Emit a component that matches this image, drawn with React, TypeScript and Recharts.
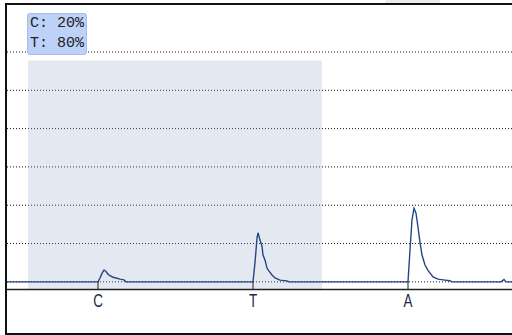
import React from 'react'
import { LineChart, Line, XAxis, YAxis, CartesianGrid, ReferenceArea } from 'recharts'

// trace samples (scan index -> signal)
const scans = [
  0, 91, 93, 95, 97, 99, 101, 103, 106, 109, 113, 117, 119,
  246, 248, 250, 251, 253, 255, 256, 258, 260, 262, 265, 268, 273, 280, 282,
  401, 403, 405, 407, 409, 411, 413, 415, 418, 421, 426, 431, 438, 443, 445,
  494, 497, 499, 505,
]
const signal = [
  0, 0, 0.1, 0.22, 0.31, 0.27, 0.2, 0.16, 0.12, 0.1, 0.07, 0.05, 0,
  0, 0.5, 1.14, 1.28, 1.09, 0.93, 0.7, 0.57, 0.36, 0.28, 0.18, 0.1, 0.045, 0.026, 0,
  0, 0.83, 1.62, 1.92, 1.79, 1.43, 1.03, 0.7, 0.44, 0.3, 0.13, 0.07, 0.045, 0.03, 0,
  0, 0.06, 0, 0,
]

const baseTicks = [91, 246, 401]
const baseLabels = ['C', 'T', 'A']
const gridLevels = [0, 1, 2, 3, 4, 5]
const windowRange = [21, 315]
const windowTop = 5.78
const callLines = ['C: 20%', 'T: 80%']

const trace = scans.map((s, i) => ({ scan: s, signal: signal[i] }))

function BaseTick(props: any) {
  const { x, y, payload } = props
  const idx = baseTicks.indexOf(payload.value)
  return (
    <g>
      <line x1={x} x2={x} y1={y - 8} y2={y} stroke="#222" strokeWidth={1} />
      <text
        transform={`translate(${x},${y + 17}) scale(0.75,1)`}
        textAnchor="middle"
        fontFamily="'Liberation Sans', Arial, sans-serif"
        fontSize={18}
        fill="#1c2b45"
      >
        {baseLabels[idx]}
      </text>
    </g>
  )
}

export default function App() {
  return (
    <div style={{ position: 'absolute', left: 0, top: 0, width: 512, height: 335, background: '#fff' }}>
      <div style={{ position: 'absolute', left: 385, top: 0, width: 55, height: 3, background: '#ececec', borderRadius: 2 }} />
      <LineChart
        width={512}
        height={335}
        data={trace}
        margin={{ top: 52, right: 0, bottom: 15.5, left: 7 }}
      >
        <ReferenceArea
          x1={windowRange[0]}
          x2={windowRange[1]}
          y1={-0.2}
          y2={windowTop}
          fill="#93a7c7"
          fillOpacity={0.25}
          stroke="none"
        />
        <CartesianGrid vertical={false} strokeDasharray="1 2" stroke="#111" />
        <XAxis
          type="number"
          dataKey="scan"
          domain={[0, 505]}
          allowDataOverflow
          ticks={baseTicks}
          height={30}
          tickSize={0}
          tickMargin={0}
          tickLine={false}
          axisLine={{ stroke: '#222', strokeWidth: 1.5 }}
          tick={<BaseTick />}
        />
        <YAxis hide type="number" domain={[-0.2, 6]} ticks={gridLevels} allowDataOverflow />
        <Line
          type="linear"
          dataKey="signal"
          stroke="#244683"
          strokeWidth={1.4}
          dot={false}
          isAnimationActive={false}
        />
      </LineChart>
      <div
        style={{
          position: 'absolute',
          left: 27,
          top: 13,
          width: 56,
          height: 40,
          background: '#bdd1f9',
          border: '1px solid #a5bdeb',
          borderRadius: 3,
          fontFamily: "'Liberation Mono', 'Courier New', monospace",
          fontSize: 15,
          lineHeight: '20px',
          color: '#222',
          paddingLeft: 2,
          boxSizing: 'content-box',
          whiteSpace: 'pre',
        }}
      >
        {callLines.map(t => <div key={t}>{t}</div>)}
      </div>
      <div
        style={{
          position: 'absolute',
          left: 5,
          top: 3,
          width: 507,
          height: 332,
          boxSizing: 'border-box',
          borderLeft: '2px solid #111',
          borderTop: '2px solid #111',
          borderBottom: '2px solid #111',
          pointerEvents: 'none',
        }}
      />
    </div>
  )
}
